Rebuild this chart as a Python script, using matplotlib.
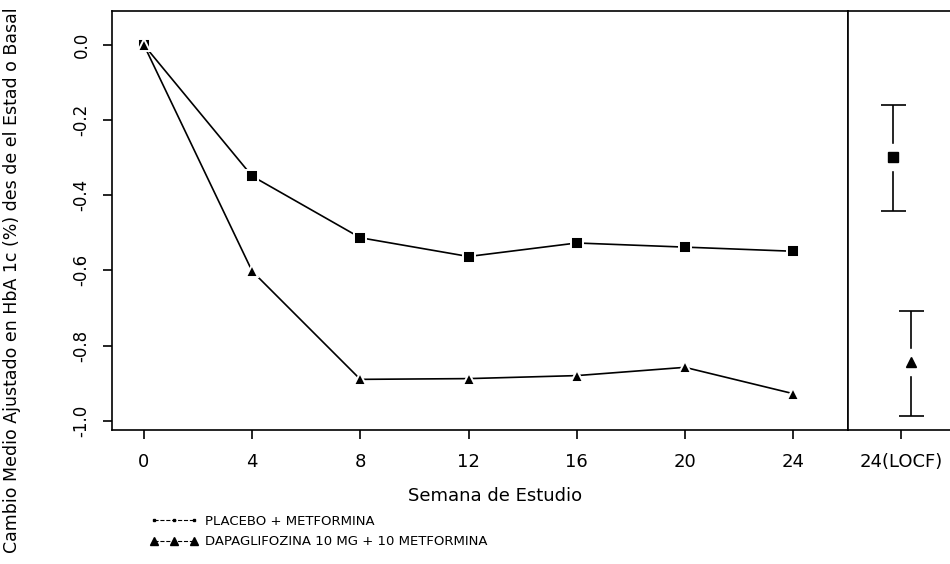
import matplotlib
matplotlib.use("Agg")
import matplotlib.pyplot as plt
from matplotlib.lines import Line2D

# ---- data ----
weeks = [0, 4, 8, 12, 16, 20, 24]
placebo = [0.0, -0.349, -0.513, -0.563, -0.527, -0.538, -0.549]
dapa = [0.0, -0.602, -0.890, -0.888, -0.880, -0.858, -0.928]
locf_label = "24(LOCF)"
locf_placebo = -0.299
locf_placebo_ci = (-0.443, -0.160)
locf_dapa = -0.843
locf_dapa_ci = (-0.987, -0.707)
y_ticks = [0.0, -0.2, -0.4, -0.6, -0.8, -1.0]
y_ticklabels = ["0.0", "-0.2", "-0.4", "-0.6", "-0.8", "-1.0"]
legend_labels = ["PLACEBO + METFORMINA", "DAPAGLIFOZINA 10 MG + 10 METFORMINA"]
xlabel = "Semana de Estudio"
ylabel = "Cambio Medio Ajustado en HbA 1c (%) des de el Estad o Basal"

plt.rcParams['font.family'] = ['DejaVu Sans']

W, H = 950, 564
fig = plt.figure(figsize=(W / 100, H / 100), dpi=100)

def px(l, t, r, b):
    return [l / W, 1 - b / H, (r - l) / W, (b - t) / H]

ax = fig.add_axes(px(112, 11, 848, 430))
ax2 = fig.add_axes(px(848, 11, 956, 430), sharey=ax)

ylim = (-1.0248, 0.0905)
mk = dict(color='black', lw=1.2, markeredgecolor='white', markeredgewidth=1.4)
ax.plot(weeks, placebo, marker='s', markersize=8.5, **mk)
ax.plot(weeks, dapa, marker='^', markersize=9, **mk)
ax.set_xlim(-1.18, 26.03)
ax.set_ylim(*ylim)
ax.set_xticks(weeks)
ax.set_xticklabels([str(w) for w in weeks], fontsize=13)
ax.set_yticks(y_ticks)
ax.set_yticklabels(y_ticklabels, fontsize=12, rotation=90, va='center')
ax.tick_params(axis='both', direction='out', length=6.5, width=1.2, color='black')
ax.tick_params(axis='x', pad=10)
ax.tick_params(axis='y', pad=9)
for s in ax.spines.values():
    s.set_linewidth(1.2)

# LOCF panel
for xpos, val, ci, m, ms in [(-0.15, locf_placebo, locf_placebo_ci, 's', 7),
                             (0.19, locf_dapa, locf_dapa_ci, '^', 6.5)]:
    ax2.errorbar([xpos], [val], yerr=[[val - ci[0]], [ci[1] - val]],
                 fmt='none', ecolor='black', elinewidth=1.2, capsize=9, capthick=1.2, zorder=2)
    ax2.plot([xpos], [val], marker='s', markersize=19, color='white', ls='none', zorder=3)
    ax2.plot([xpos], [val], marker=m, markersize=ms, color='black', ls='none', zorder=4)
ax2.set_xlim(-1.0, 1.04)
ax2.set_xticks([0])
ax2.set_xticklabels([locf_label], fontsize=13)
ax2.tick_params(axis='x', direction='out', length=6.5, width=1.2, pad=10)
ax2.tick_params(axis='y', left=False, labelleft=False)
ax2.spines['right'].set_visible(False)
for s in ax2.spines.values():
    s.set_linewidth(1.2)

# axis labels
fig.text(495 / W, 1 - 496 / H, xlabel, ha='center', va='center', fontsize=13)
fig.text(12 / W, 1 - 280 / H, ylabel, ha='center', va='center', rotation=90, fontsize=12.5)

# legend
h1 = Line2D([], [], color='black', lw=0.8, ls='--', marker='s', markersize=2)
h2 = Line2D([], [], color='black', lw=0.8, ls='--', marker='^', markersize=5.5)
fig.legend([h1, h2], legend_labels, loc='upper left', bbox_to_anchor=(150 / W, 1 - 515 / H),
           frameon=False, numpoints=3, handlelength=3.6, handletextpad=0.6,
           labelspacing=0.55, fontsize=9.5, borderpad=0, borderaxespad=0)

fig.savefig("out.png", dpi=100)
